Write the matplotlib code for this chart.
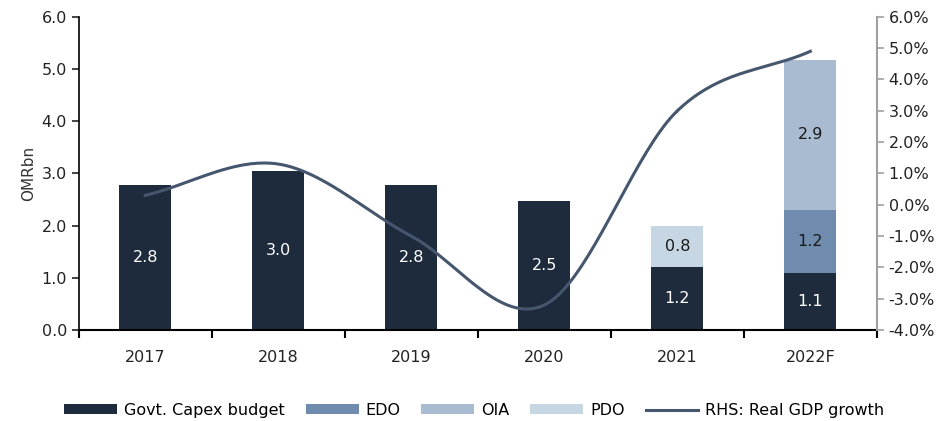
import numpy as np
import matplotlib.pyplot as plt
from matplotlib.ticker import FormatStrFormatter, FixedLocator

years = ['2017', '2018', '2019', '2020', '2021', '2022F']
govt_capex = [2.77, 3.04, 2.77, 2.47, 1.2, 1.1]
edo = [0, 0, 0, 0, 0, 1.2]
oia = [0, 0, 0, 0, 0, 2.88]
pdo = [0, 0, 0, 0, 0.8, 0]
gdp_growth = [0.3, 1.3, -1.0, -3.2, 3.0, 4.9]

c_govt = '#1e2b3c'
c_edo = '#6f8cae'
c_oia = '#a9bbd1'
c_pdo = '#c7d6e3'
c_line = '#45566e'


def smooth(xs, ys, n=40):
    # catmull-rom style smoothing like the excel "smoothed line"
    xs = np.asarray(xs, float)
    ys = np.asarray(ys, float)
    px = np.concatenate([[2 * xs[0] - xs[1]], xs, [2 * xs[-1] - xs[-2]]])
    py = np.concatenate([[2 * ys[0] - ys[1]], ys, [2 * ys[-1] - ys[-2]]])
    out_x, out_y = [], []
    t = np.linspace(0, 1, n)
    for i in range(1, len(px) - 2):
        for p, out in ((px, out_x), (py, out_y)):
            p0, p1, p2, p3 = p[i - 1], p[i], p[i + 1], p[i + 2]
            out.extend(0.5 * ((2 * p1) + (-p0 + p2) * t
                              + (2 * p0 - 5 * p1 + 4 * p2 - p3) * t ** 2
                              + (-p0 + 3 * p1 - 3 * p2 + p3) * t ** 3))
    return np.array(out_x), np.array(out_y)


plt.rcParams['font.family'] = 'DejaVu Sans'
fig = plt.figure(figsize=(9.49, 4.21), dpi=100)
ax = fig.add_axes([0.083, 0.216, 0.841, 0.744])

x = np.arange(len(years))
w = 0.39
b1 = ax.bar(x, govt_capex, w, color=c_govt, label='Govt. Capex budget')
bottom = np.array(govt_capex)
b2 = ax.bar(x, edo, w, bottom=bottom, color=c_edo, label='EDO')
bottom = bottom + np.array(edo)
b3 = ax.bar(x, oia, w, bottom=bottom, color=c_oia, label='OIA')
bottom = bottom + np.array(oia)
b4 = ax.bar(x, pdo, w, bottom=bottom, color=c_pdo, label='PDO')

# data labels
for bars, vals, col in ((b1, govt_capex, 'white'), (b2, edo, '#1a1a1a'),
                        (b3, oia, '#1a1a1a'), (b4, pdo, '#1a1a1a')):
    for rect, v in zip(bars, vals):
        if v > 0:
            ax.text(rect.get_x() + rect.get_width() / 2,
                    rect.get_y() + rect.get_height() / 2,
                    f'{v:.1f}', ha='center', va='center', color=col, fontsize=11.5)

ax.set_xlim(-0.5, len(years) - 0.5)
ax.set_ylim(0, 6)
ax.set_yticks(np.arange(0, 6.1, 1))
ax.yaxis.set_major_formatter(FormatStrFormatter('%.1f'))
ax.set_ylabel('OMRbn', fontsize=11, color='#333333')
ax.set_xticks(x)
ax.set_xticklabels(years)
ax.xaxis.set_minor_locator(FixedLocator(np.arange(-0.5, len(years), 1)))
ax.tick_params(axis='x', which='major', length=0, pad=14, labelsize=11.5, colors='#222222')
ax.tick_params(axis='x', which='minor', length=6, width=1.5, direction='out')
ax.tick_params(axis='y', length=5, width=1.2, labelsize=11.5, colors='#222222')
for s in ['top', 'right']:
    ax.spines[s].set_visible(False)
ax.spines['left'].set_linewidth(1.2)
ax.spines['bottom'].set_linewidth(1.5)

ax2 = ax.twinx()
sx, sy = smooth(x, gdp_growth)
ln, = ax2.plot(sx, sy, color=c_line, lw=2.2, label='RHS: Real GDP growth')
ax2.set_ylim(-4, 6)
ax2.set_yticks(np.arange(-4, 6.1, 1))
ax2.set_yticklabels([f'{v:.1f}%' for v in np.arange(-4, 6.1, 1)])
ax2.tick_params(axis='y', length=5, width=1.2, color='#a0a0a0', labelsize=11.5,
                labelcolor='#222222')
for s in ['top', 'left', 'bottom']:
    ax2.spines[s].set_visible(False)
ax2.spines['right'].set_color('#a0a0a0')
ax2.spines['right'].set_linewidth(1.5)

handles = [b1, b2, b3, b4, ln]
fig.legend(handles, [h.get_label() for h in handles], loc='center',
           bbox_to_anchor=(0.5, 0.025), ncol=5, frameon=False, fontsize=11.5,
           handlelength=3.3, handleheight=0.6, columnspacing=1.3, handletextpad=0.45)

fig.savefig('out.png', dpi=100)
